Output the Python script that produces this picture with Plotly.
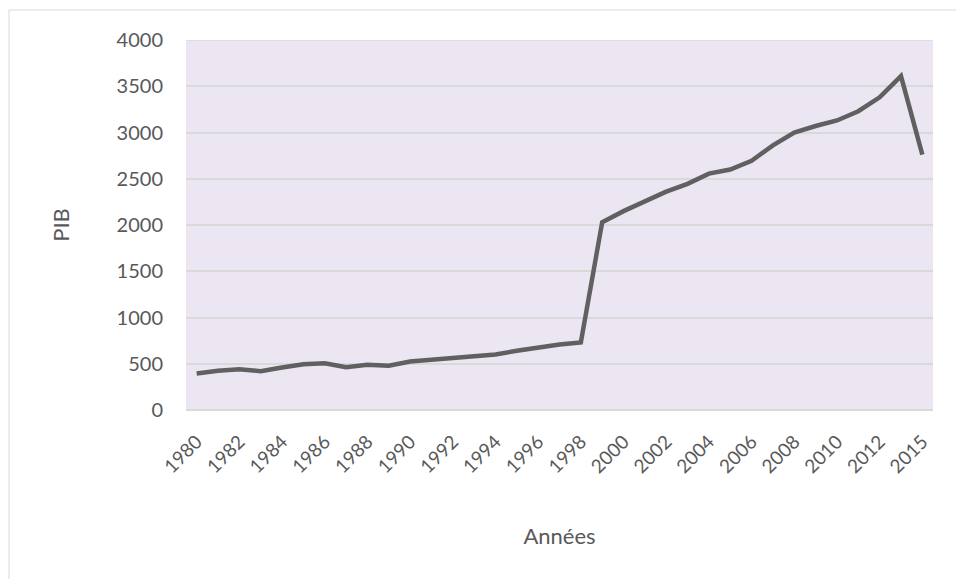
import plotly.graph_objects as go

# PIB par année (la série passe de 2013 à 2015)
annees = [str(a) for a in range(1980, 2014)] + ["2015"]
pib = [395, 425, 440, 420, 460, 495, 505, 462, 490, 478,
       525, 545, 565, 590, 600, 640, 675, 708, 730, 2030,
       2150, 2260, 2360, 2445, 2555, 2600, 2695, 2860, 3000, 3070,
       3130, 3230, 3380, 3610, 2760]
y_ticks = [0, 500, 1000, 1500, 2000, 2500, 3000, 3500, 4000]

# une étiquette sur deux sur l'axe des années
x_ticks = annees[::2]

FONT = "Lato, Calibri, Carlito, sans-serif"
GREY_TXT = "#595959"

fig = go.Figure()
fig.add_trace(go.Scatter(
    x=annees, y=pib, mode="lines",
    line=dict(color="#606060", width=4.5),
    hoverinfo="x+y",
))

W, H = 956, 579
L, R, T, B = 186, 23, 40, 169
pw, ph = W - L - R, H - T - B

fig.update_layout(
    width=W, height=H,
    margin=dict(l=L, r=R, t=T, b=B),
    paper_bgcolor="white",
    plot_bgcolor="#ECE5F2",
    showlegend=False,
    font=dict(family=FONT, color=GREY_TXT, size=20),
    xaxis=dict(
        type="category",
        tickmode="array", tickvals=x_ticks, ticktext=x_ticks,
        tickangle=-45,
        tickfont=dict(size=19, color=GREY_TXT),
        showgrid=False, showline=False, zeroline=False,
        ticks="", ticklabelstandoff=16,
        title=dict(text="Années", font=dict(size=22, color=GREY_TXT), standoff=52),
        range=[-0.5, len(annees) - 0.5],
    ),
    yaxis=dict(
        range=[0, 4000],
        tickmode="array", tickvals=y_ticks,
        tickfont=dict(size=20, color=GREY_TXT),
        showgrid=True, gridcolor="#D9D9D9", gridwidth=1.5,
        zeroline=True, zerolinecolor="#D9D9D9", zerolinewidth=1.5,
        showline=False, ticks="", ticklabelstandoff=22,
        title=dict(text="PIB", font=dict(size=22, color=GREY_TXT), standoff=40),
    ),
    shapes=[
        # cadre du graphique
        dict(type="rect", xref="paper", yref="paper",
             x0=(9 - L) / pw, x1=(W + 20 - L) / pw,
             y0=(H - B - (H + 20)) / ph, y1=(H - B - 10) / ph,
             line=dict(color="#D9D9D9", width=1), fillcolor="rgba(0,0,0,0)",
             layer="below"),
        # ligne supérieure de la grille
        dict(type="line", xref="paper", yref="y", x0=0, x1=1, y0=4000, y1=4000,
             line=dict(color="#D9D9D9", width=1.5), layer="below"),
    ],
)

fig.write_html("out.html")
